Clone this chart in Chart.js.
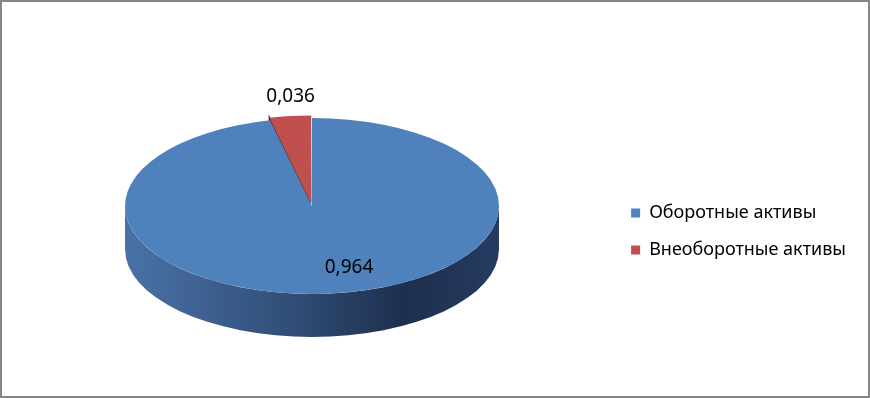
<!DOCTYPE html>
<html>
<head>
<meta charset="utf-8">
<script src="https://cdn.jsdelivr.net/npm/chart.js@4.4.1/dist/chart.umd.min.js"></script>
<style>
  html, body { margin: 0; padding: 0; background: #fff; }
  #box { width: 870px; height: 398px; box-sizing: border-box; border: 2px solid #868686; }
  canvas { display: block; }
</style>
</head>
<body>
<div id="box"><canvas id="chart" width="866" height="394"></canvas></div>
<script>
// Данные
const categories = ['Оборотные активы', 'Внеоборотные активы'];
const shares = [0.964, 0.036];
const sliceColors = ['#4f81bd', '#c0504d'];
const explode = [0, 13];   // вынос сектора, px

const FONT = 'Noto Sans';

// Плагин: "сплющивает" круг в эллипс и рисует боковую стенку (псевдо-3D)
const pie3d = {
    id: 'pie3d',
    beforeDatasetsDraw(chart, args, opts) {
        const ctx = chart.ctx;
        const arcs = chart.getDatasetMeta(0).data;
        const ax = arcs[0].x, ay = arcs[0].y, r = arcs[0].outerRadius;
        const D = opts.depth / opts.ratio;
        ctx.save();
        ctx.translate(opts.cx, opts.cy);
        ctx.scale(1, opts.ratio);
        ctx.translate(-ax, -ay);

        // радиальная грань вынесенного сектора
        arcs.forEach((arc, i) => {
            if (!explode[i]) return;
            const mid = (arc.startAngle + arc.endAngle) / 2;
            const ox = ax + Math.cos(mid) * explode[i];
            const oy = ay + Math.sin(mid) * explode[i];
            const px = ox + Math.cos(arc.startAngle) * r;
            const py = oy + Math.sin(arc.startAngle) * r;
            ctx.beginPath();
            ctx.moveTo(ox, oy);
            ctx.lineTo(px, py);
            ctx.lineTo(px, py + D);
            ctx.lineTo(ox, oy + D);
            ctx.closePath();
            ctx.fillStyle = '#5a1f1d';
            ctx.fill();
        });

        // передняя стенка (видимая часть 0..PI)
        const g = ctx.createLinearGradient(ax - r, 0, ax + r, 0);
        g.addColorStop(0, '#4a72a8');
        g.addColorStop(0.45, '#304d76');
        g.addColorStop(0.75, '#1e2f4e');
        g.addColorStop(1, '#253b60');
        ctx.beginPath();
        ctx.arc(ax, ay, r, 0, Math.PI);
        ctx.arc(ax, ay + D, r, Math.PI, 0, true);
        ctx.closePath();
        ctx.fillStyle = g;
        ctx.fill();
    },
    afterDatasetsDraw(chart, args, opts) {
        const ctx = chart.ctx;
        ctx.restore();
        const arcs = chart.getDatasetMeta(0).data;
        const r = arcs[0].outerRadius;
        const lab = opts.labels;
        ctx.save();
        ctx.font = lab.size + 'px "' + FONT + '"';
        ctx.fillStyle = '#000';
        ctx.textAlign = 'center';
        ctx.textBaseline = 'middle';
        arcs.forEach((arc, i) => {
            const mid = (arc.startAngle + arc.endAngle) / 2;
            const dist = explode[i] ? r + explode[i] + lab.outside : r * lab.inside;
            const x = opts.cx + Math.cos(mid) * dist + lab.nudge[i][0];
            const y = opts.cy + Math.sin(mid) * dist * opts.ratio + lab.nudge[i][1];
            ctx.fillText(shares[i].toFixed(3).replace('.', ','), x, y);
        });
        ctx.restore();
    }
};

new Chart(document.getElementById('chart'), {
    type: 'pie',
    data: {
        labels: categories,
        datasets: [{
            data: shares,
            backgroundColor: sliceColors,
            borderWidth: 0,
            offset: explode,
            radius: 187
        }]
    },
    options: {
        responsive: false,
        animation: false,
        layout: { padding: { top: 65, bottom: 0, right: 12 } },
        plugins: {
            tooltip: { enabled: false },
            legend: {
                position: 'right',
                labels: {
                    boxWidth: 9,
                    boxHeight: 9,
                    padding: 19,
                    color: '#000',
                    font: { family: FONT, size: 18 }
                }
            },
            pie3d: {
                cx: 310, cy: 204, ratio: 0.47, depth: 43,
                labels: { size: 19, inside: 0.71, outside: 34, nudge: [[22, 0], [5, 0]] }
            }
        }
    },
    plugins: [pie3d]
});
</script>
</body>
</html>
